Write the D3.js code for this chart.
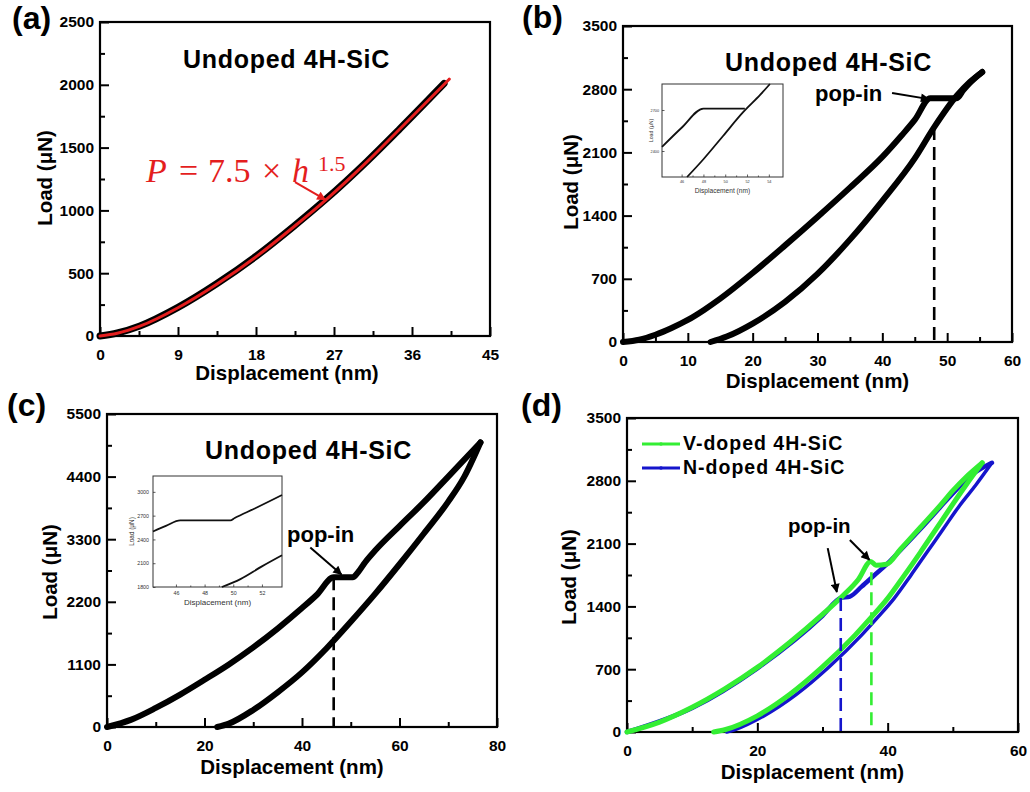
<!DOCTYPE html>
<html>
<head>
<meta charset="utf-8">
<script src="https://cdn.jsdelivr.net/npm/d3@7"></script>
<style>
body { margin: 0; background: #fff; }
svg text { font-family: "Liberation Sans", Arial, sans-serif; }
svg text.eq { font-family: "Liberation Serif", "DejaVu Serif", serif; font-size: 34px; fill: #e41e1e; }
.main-axis .tick text { font-weight: bold; font-size: 15.5px; fill: #000; }
.main-axis .tick line { stroke: #000; stroke-width: 2; }
.axis-label { font-weight: bold; font-size: 20.5px; }
.panel-label { font-weight: bold; font-size: 32px; }
.title { font-weight: bold; font-size: 25px; letter-spacing: 0.7px; }
.popin { font-weight: bold; }
.legend { font-weight: bold; font-size: 19.5px; letter-spacing: 1px; }
</style>
</head>
<body>
<div id="fig"></div>
<script>

// ---------- data ----------

// (a) undoped, loading only, with power-law fit
var aTicksX = [0, 9, 18, 27, 36, 45];
var aTicksY = [0, 500, 1000, 1500, 2000, 2500];
var aLoading = [[0,0],[2,24],[4.6,80],[9,228],[13.5,418],[18.1,640],[22.3,870],[26,1085],[30.8,1390],[34.6,1650],[39.7,2010]];
var aFit = [[0,0],[2,22],[4.6,78],[9,225],[13.5,414],[18.1,636],[22.3,866],[26,1080],[30.8,1386],[34.6,1648],[40.3,2045]];

// (b) undoped, 3000 uN
var bTicksX = [0, 10, 20, 30, 40, 50, 60];
var bTicksY = [0, 700, 1400, 2100, 2800, 3500];
var bLoading = [[0,0],[2.5,25],[5,80],[7.5,155],[10,244],[12.5,355],[15,480],[20,764],[25,1070],[30,1385],[35,1710],[40,2050],[43,2290],[45,2460],[47.4,2700],[51.5,2700],[52.5,2790],[53.5,2870],[55.4,2990]];
var bUnloading = [[55.4,2990],[53.5,2880],[51.5,2730],[48,2380],[45,2034],[40,1564],[35,1134],[30,754],[25,444],[20,204],[16,60],[13.5,0]];
var bPopIn = [48, 2380];
var bInsetTicksX = [46, 48, 50, 52, 54];
var bInsetTicksY = [2400, 2700];
var bInsetUpper = [[44.2,2430],[46,2570],[48,2710],[51.8,2710]];
var bInsetLower = [[46.5,2210],[48,2340],[49.8,2510],[51.6,2680],[53.2,2810],[54.1,2890]];

// (c) undoped, 5000 uN
var cTicksX = [0, 20, 40, 60, 80];
var cTicksY = [0, 1100, 2200, 3300, 4400, 5500];
var cLoading = [[0,0],[5,130],[10,335],[15,570],[20,830],[25,1100],[30,1400],[35,1730],[40,2090],[43,2320],[46.5,2630],[50.4,2630],[51.5,2720],[53,2900],[55,3100],[60,3530],[65,3950],[70,4400],[76.6,5000]];
var cUnloading = [[76.6,5000],[73.3,4400],[70,3960],[65,3400],[60,2860],[55,2340],[50,1850],[45,1380],[40,960],[35,610],[30,300],[25,60],[22.6,0]];
var cPopIn = [46.5, 2630];
var cInsetTicksX = [46, 48, 50, 52];
var cInsetTicksY = [1800, 2100, 2400, 2700, 3000];
var cInsetUpper = [[44.4,2500],[45.3,2570],[46.3,2640],[49.8,2640],[50.1,2670],[51.5,2790],[53.4,2960]];
var cInsetLower = [[49.2,1800],[50.5,1900],[52,2060],[53.4,2200]];

// (d) V-doped vs N-doped
var dTicksX = [0, 20, 40, 60];
var dTicksY = [0, 700, 1400, 2100, 2800, 3500];
var dSeries = ["V-doped 4H-SiC", "N-doped 4H-SiC"];
var dVLoading = [[0,0],[5,110],[10,275],[15,480],[20,720],[25,1000],[30,1310],[33,1510],[35.5,1700],[37.4,1900],[38.2,1860],[39.8,1870],[42,2040],[45,2280],[48,2520],[50,2690],[52,2840],[54.5,3000]];
var dVUnloading = [[54.5,3000],[52,2750],[50,2540],[47.5,2270],[45,2000],[42.5,1740],[40,1490],[37.5,1280],[35,1080],[30,725],[25,420],[20,180],[15,25],[13.3,0]];
var dNLoading = [[0,0],[10,268],[20,710],[30,1295],[32.8,1494],[34.2,1510],[36,1620],[38,1750],[39.8,1865],[42,2030],[45,2260],[48,2500],[50,2660],[53,2870],[56,3000]];
var dNUnloading = [[56,3000],[53.5,2750],[51,2520],[48.5,2260],[46,2000],[43.5,1740],[41,1490],[38.5,1280],[36,1080],[31,725],[26,420],[21,180],[16.5,25],[15.3,0]];
var dPopInN = [32.8, 1494];
var dPopInV = [37.5, 1780];

// ---------- drawing ----------

var svg = d3.select("#fig").append("svg")
    .attr("width", 1030)
    .attr("height", 792);

var defs = svg.append("defs");
function arrowMarker(id, color) {
    defs.append("marker")
        .attr("id", id)
        .attr("viewBox", "0 0 10 10")
        .attr("refX", 9).attr("refY", 5)
        .attr("markerUnits", "userSpaceOnUse")
        .attr("markerWidth", 11).attr("markerHeight", 9)
        .attr("orient", "auto")
        .append("path")
        .attr("d", "M0,0 L10,5 L0,10 Z")
        .attr("fill", color);
}
arrowMarker("arrow-black", "#000");
arrowMarker("arrow-red", "#e41e1e");

function mids(ticks) {
    return d3.pairs(ticks).map(function(p) { return (p[0] + p[1]) / 2; });
}

function drawPanel(p) {
    var g = svg.append("g");
    var x = d3.scaleLinear().domain(p.xDomain).range([p.left, p.right]);
    var y = d3.scaleLinear().domain(p.yDomain).range([p.bottom, p.top]);

    g.append("g").attr("class", "main-axis")
        .attr("transform", "translate(0," + p.bottom + ")")
        .call(d3.axisBottom(x).tickValues(mids(p.ticksX)).tickSize(-5).tickFormat(""));
    g.append("g").attr("class", "main-axis")
        .attr("transform", "translate(" + p.left + ",0)")
        .call(d3.axisLeft(y).tickValues(mids(p.ticksY)).tickSize(-5).tickFormat(""));
    g.append("g").attr("class", "main-axis")
        .attr("transform", "translate(0," + p.bottom + ")")
        .call(d3.axisBottom(x).tickValues(p.ticksX).tickSize(-9).tickPadding(13).tickFormat(d3.format("d")));
    g.append("g").attr("class", "main-axis")
        .attr("transform", "translate(" + p.left + ",0)")
        .call(d3.axisLeft(y).tickValues(p.ticksY).tickSize(-9).tickPadding(6).tickFormat(d3.format("d")));
    g.selectAll(".domain").remove();

    g.append("rect")
        .attr("x", p.left).attr("y", p.top)
        .attr("width", p.right - p.left).attr("height", p.bottom - p.top)
        .attr("fill", "none").attr("stroke", "#000").attr("stroke-width", 2.2);

    g.append("text").attr("class", "axis-label")
        .attr("x", (p.left + p.right) / 2 + p.xLabelShift).attr("y", p.xLabelY)
        .attr("text-anchor", "middle").text("Displacement (nm)");
    g.append("text").attr("class", "axis-label")
        .attr("transform", "translate(" + p.yLabelX + "," + p.yLabelMid + ") rotate(-90)")
        .attr("text-anchor", "middle").text("Load (\u03bcN)");
    g.append("text").attr("class", "panel-label")
        .attr("x", p.labelX).attr("y", p.labelY).text(p.label);

    var line = d3.line()
        .x(function(d) { return x(d[0]); })
        .y(function(d) { return y(d[1]); })
        .curve(d3.curveMonotoneX);

    return { g: g, x: x, y: y, line: line };
}

function curve(panel, pts, color, width) {
    var data = pts[0][0] > pts[pts.length - 1][0] ? pts.slice().reverse() : pts;
    panel.g.append("path")
        .attr("d", panel.line(data))
        .attr("fill", "none")
        .attr("stroke", color)
        .attr("stroke-width", width)
        .attr("stroke-linejoin", "round")
        .attr("stroke-linecap", "round");
}

function dashed(panel, pt, color) {
    panel.g.append("line")
        .attr("x1", panel.x(pt[0])).attr("x2", panel.x(pt[0]))
        .attr("y1", panel.y(pt[1])).attr("y2", panel.y(0))
        .attr("stroke", color).attr("stroke-width", 2.6)
        .attr("stroke-dasharray", "13,7");
}

function arrow(panel, from, to, color, marker) {
    panel.g.append("line")
        .attr("x1", panel.x(from[0])).attr("y1", panel.y(from[1]))
        .attr("x2", panel.x(to[0])).attr("y2", panel.y(to[1]))
        .attr("stroke", color).attr("stroke-width", 2)
        .attr("marker-end", "url(#" + marker + ")");
}

function drawInset(p) {
    var g = svg.append("g");
    var x = d3.scaleLinear().domain(p.xDomain).range([p.left, p.right]);
    var y = d3.scaleLinear().domain(p.yDomain).range([p.bottom, p.top]);
    g.append("rect")
        .attr("x", p.left).attr("y", p.top)
        .attr("width", p.right - p.left).attr("height", p.bottom - p.top)
        .attr("fill", "#fff").attr("stroke", "#333").attr("stroke-width", 1);

    g.append("g").attr("transform", "translate(0," + p.bottom + ")")
        .call(d3.axisBottom(x).tickValues(p.ticksX).tickSize(-2.5).tickPadding(p.tickPad).tickFormat(d3.format("d")));
    g.append("g").attr("transform", "translate(" + p.left + ",0)")
        .call(d3.axisLeft(y).tickValues(p.ticksY).tickSize(-2.5).tickPadding(p.tickPad).tickFormat(d3.format("d")));
    g.append("g").attr("transform", "translate(0," + p.bottom + ")")
        .call(d3.axisBottom(x).tickValues(mids(p.ticksX)).tickSize(-1.5).tickFormat(""));
    g.selectAll(".domain").remove();
    g.selectAll(".tick line").attr("stroke", "#333").attr("stroke-width", 0.8);
    g.selectAll(".tick text").style("font-size", p.tickFont + "px").attr("fill", "#333");

    g.append("text").attr("x", (p.left + p.right) / 2).attr("y", p.xLabelY)
        .attr("text-anchor", "middle").style("font-size", p.labelFont + "px").attr("fill", "#333")
        .text("Displacement (nm)");
    g.append("text")
        .attr("transform", "translate(" + p.yLabelX + "," + (p.top + p.bottom) / 2 + ") rotate(-90)")
        .attr("text-anchor", "middle").style("font-size", (p.labelFont * 0.8) + "px").attr("fill", "#333")
        .text("Load (\u03bcN)");

    var line = d3.line()
        .x(function(d) { return x(d[0]); })
        .y(function(d) { return y(d[1]); })
        .curve(d3.curveMonotoneX);
    p.series.forEach(function(s) {
        g.append("path").attr("d", line(s)).attr("fill", "none")
            .attr("stroke", "#111").attr("stroke-width", 1.8).attr("stroke-linejoin", "round");
    });
}

// ----- panel (a)
var pa = drawPanel({
    left: 100, right: 490, top: 22, bottom: 336,
    xDomain: [0, 45], yDomain: [0, 2500], ticksX: aTicksX, ticksY: aTicksY,
    xLabelY: 380, xLabelShift: -8, yLabelX: 52, yLabelMid: 178,
    label: "(a)", labelX: 12, labelY: 29
});
curve(pa, aLoading, "#000", 7);
curve(pa, aFit, "#e41e1e", 3);
pa.g.append("text").attr("class", "title").attr("x", 183).attr("y", 68).text("Undoped 4H-SiC");
// fit equation, set piece by piece like the math font in the original
pa.g.append("text").attr("class", "eq").attr("x", 146).attr("y", 182).style("font-style", "italic").text("P");
pa.g.append("text").attr("class", "eq").attr("x", 179).attr("y", 182).text("=");
pa.g.append("text").attr("class", "eq").attr("x", 208).attr("y", 182).text("7.5");
pa.g.append("text").attr("class", "eq").attr("x", 262).attr("y", 182).text("\u00d7");
pa.g.append("text").attr("class", "eq").attr("x", 292).attr("y", 182).style("font-style", "italic").text("h");
pa.g.append("text").attr("class", "eq").attr("x", 318).attr("y", 171).style("font-size", "22px").text("1.5");
arrow(pa, [22.5, 1226], [26, 1085], "#e41e1e", "arrow-red");

// ----- panel (b)
var pb = drawPanel({
    left: 623, right: 1012, top: 26, bottom: 342,
    xDomain: [0, 60], yDomain: [0, 3500], ticksX: bTicksX, ticksY: bTicksY,
    xLabelY: 388, xLabelShift: 0, yLabelX: 578, yLabelMid: 182,
    label: "(b)", labelX: 522, labelY: 28
});
curve(pb, bUnloading, "#000", 6);
curve(pb, bLoading, "#000", 6);
dashed(pb, bPopIn, "#000");
pb.g.append("text").attr("class", "title").attr("x", 725).attr("y", 71).text("Undoped 4H-SiC");
pb.g.append("text").attr("class", "popin").style("font-size", "22px").attr("x", 815).attr("y", 101).text("pop-in");
arrow(pb, [41.5, 2757], [47.2, 2690], "#000", "arrow-black");
drawInset({
    left: 662, right: 783, top: 84, bottom: 177,
    xDomain: [44.2, 55.3], yDomain: [2210, 2890], ticksX: bInsetTicksX, ticksY: bInsetTicksY,
    tickPad: 3, tickFont: 3.8, labelFont: 6.6, xLabelY: 193, yLabelX: 653,
    series: [bInsetUpper, bInsetLower]
});

// ----- panel (c)
var pc = drawPanel({
    left: 107, right: 497, top: 414, bottom: 727,
    xDomain: [0, 80], yDomain: [0, 5500], ticksX: cTicksX, ticksY: cTicksY,
    xLabelY: 774, xLabelShift: -10, yLabelX: 57, yLabelMid: 572,
    label: "(c)", labelX: 7, labelY: 416
});
curve(pc, cUnloading, "#000", 6);
curve(pc, cLoading, "#000", 6);
dashed(pc, cPopIn, "#000");
pc.g.append("text").attr("class", "title").attr("x", 205).attr("y", 459).text("Undoped 4H-SiC");
pc.g.append("text").attr("class", "popin").style("font-size", "22px").attr("x", 287).attr("y", 542).text("pop-in");
arrow(pc, [41.7, 3155], [48.1, 2680], "#000", "arrow-black");
drawInset({
    left: 153, right: 282, top: 476, bottom: 587,
    xDomain: [44.4, 53.4], yDomain: [1800, 3200], ticksX: cInsetTicksX, ticksY: cInsetTicksY,
    tickPad: 4, tickFont: 5.3, labelFont: 8, xLabelY: 605, yLabelX: 134,
    series: [cInsetUpper, cInsetLower]
});

// ----- panel (d)
var pd = drawPanel({
    left: 627, right: 1018, top: 418, bottom: 732,
    xDomain: [0, 60], yDomain: [0, 3500], ticksX: dTicksX, ticksY: dTicksY,
    xLabelY: 779, xLabelShift: -10, yLabelX: 576, yLabelMid: 577,
    label: "(d)", labelX: 521, labelY: 416
});
var dColors = ["#33ee33", "#1515cc"];
curve(pd, dNUnloading, dColors[1], 3.5);
curve(pd, dNLoading, dColors[1], 4.5);
curve(pd, dVUnloading, dColors[0], 5);
curve(pd, dVLoading, dColors[0], 5);
dashed(pd, dPopInN, dColors[1]);
dashed(pd, dPopInV, dColors[0]);
pd.g.append("text").attr("class", "popin").style("font-size", "20.5px").attr("x", 788).attr("y", 533).text("pop-in");
arrow(pd, [30.8, 2050], [32.2, 1560], "#000", "arrow-black");
arrow(pd, [34.2, 2140], [37.2, 1920], "#000", "arrow-black");

var legend = pd.g.append("g");
dSeries.forEach(function(name, i) {
    var ly = 444 + i * 24;
    legend.append("line").attr("x1", 642).attr("x2", 680).attr("y1", ly).attr("y2", ly)
        .attr("stroke", dColors[i]).attr("stroke-width", 3);
    legend.append("circle").attr("cx", 661).attr("cy", ly).attr("r", 1.8).attr("fill", dColors[i]);
    legend.append("text").attr("class", "legend").attr("x", 683).attr("y", ly + 6).text(name);
});

</script>
</body>
</html>
